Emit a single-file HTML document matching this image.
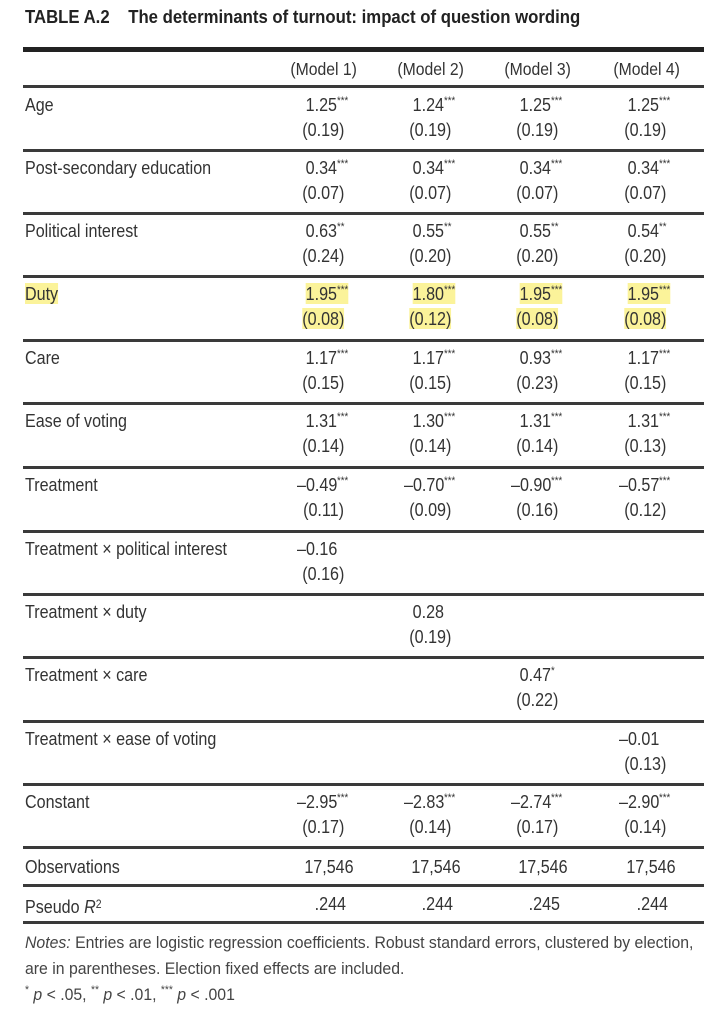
<!DOCTYPE html>
<html><head><meta charset="utf-8"><style>
html,body{margin:0;padding:0;background:#fff;}
body{width:726px;height:1024px;position:relative;overflow:hidden;font-family:"Liberation Sans",Arial,sans-serif;color:#333;}
.t{position:absolute;white-space:nowrap;font-size:18.5px;line-height:20px;transform:scaleX(.87);transform-origin:left center;}
.r{position:absolute;white-space:nowrap;font-size:18.5px;line-height:20px;transform:scaleX(.87);transform-origin:right center;text-align:right;}
.ln{position:absolute;left:23px;width:681px;height:3px;background:#3a3a3a;}
sup{font-size:11px;vertical-align:7px;line-height:0;}
.hl{background:#fbf39a;}
</style></head><body>
<div class="t" style="left:25px;top:7px;font-weight:bold;font-size:18px;color:#222;transform:scaleX(.93)">TABLE A.2&nbsp;&nbsp;&nbsp;&nbsp;The determinants of turnout: impact of question wording</div>
<div class="ln" style="top:47px;height:5px;background:#222"></div>
<div class="r" style="right:369px;top:59px;font-size:17.5px;transform:scaleX(.9)">(Model 1)</div>
<div class="r" style="right:262px;top:59px;font-size:17.5px;transform:scaleX(.9)">(Model 2)</div>
<div class="r" style="right:155px;top:59px;font-size:17.5px;transform:scaleX(.9)">(Model 3)</div>
<div class="r" style="right:46px;top:59px;font-size:17.5px;transform:scaleX(.9)">(Model 4)</div>
<div class="ln" style="top:85px"></div>
<div id="rows"></div>
<div class="t" style="left:25px;top:857px">Observations</div>
<div class="r" style="right:372px;top:857px">17,546</div>
<div class="r" style="right:265px;top:857px">17,546</div>
<div class="r" style="right:158px;top:857px">17,546</div>
<div class="r" style="right:50px;top:857px">17,546</div>
<div class="ln" style="top:884px"></div>
<div class="t" style="left:25px;top:894px">Pseudo <i>R</i><span style="font-size:12px;vertical-align:5px">2</span></div>
<div class="r" style="right:380px;top:894px">.244</div>
<div class="r" style="right:273px;top:894px">.244</div>
<div class="r" style="right:166px;top:894px">.245</div>
<div class="r" style="right:58px;top:894px">.244</div>
<div class="ln" style="top:921px"></div>
<div class="t" style="left:25px;top:933px;font-size:17px;color:#444;transform:scaleX(.93)"><i>Notes:</i> Entries are logistic regression coefficients. Robust standard errors, clustered by election,</div>
<div class="t" style="left:25px;top:959px;font-size:17px;color:#444;transform:scaleX(.93)">are in parentheses. Election fixed effects are included.</div>
<div class="t" style="left:25px;top:985px;font-size:17px;color:#444;transform:scaleX(.93)"><sup>*</sup> <i>p</i> &lt; .05, <sup>**</sup> <i>p</i> &lt; .01, <sup>***</sup> <i>p</i> &lt; .001</div>
<script>
var rows=[
["Age",["1.25","***","(0.19)"],["1.24","***","(0.19)"],["1.25","***","(0.19)"],["1.25","***","(0.19)"]],
["Post-secondary education",["0.34","***","(0.07)"],["0.34","***","(0.07)"],["0.34","***","(0.07)"],["0.34","***","(0.07)"]],
["Political interest",["0.63","**","(0.24)"],["0.55","**","(0.20)"],["0.55","**","(0.20)"],["0.54","**","(0.20)"]],
["Duty",["1.95","***","(0.08)"],["1.80","***","(0.12)"],["1.95","***","(0.08)"],["1.95","***","(0.08)"]],
["Care",["1.17","***","(0.15)"],["1.17","***","(0.15)"],["0.93","***","(0.23)"],["1.17","***","(0.15)"]],
["Ease of voting",["1.31","***","(0.14)"],["1.30","***","(0.14)"],["1.31","***","(0.14)"],["1.31","***","(0.13)"]],
["Treatment",["\u20130.49","***","(0.11)"],["\u20130.70","***","(0.09)"],["\u20130.90","***","(0.16)"],["\u20130.57","***","(0.12)"]],
["Treatment \u00d7 political interest",["\u20130.16","","(0.16)"],null,null,null],
["Treatment \u00d7 duty",null,["0.28","","(0.19)"],null,null],
["Treatment \u00d7 care",null,null,["0.47","*","(0.22)"],null],
["Treatment \u00d7 ease of voting",null,null,null,["\u20130.01","","(0.13)"]],
["Constant",["\u20132.95","***","(0.17)"],["\u20132.83","***","(0.14)"],["\u20132.74","***","(0.17)"],["\u20132.90","***","(0.14)"]]
];
var tops=[86,149,212,275,339,402,466,530,593,656,720,783];
var coefR=[337,444,551,659],seR=[344,451,558,666];
var h="";
rows.forEach(function(r,i){
 var t=tops[i],hl=(r[0]=="Duty")?" hl":"";
 h+='<div class="t" style="left:25px;top:'+(t+9)+'px"><span class="'+hl+'">'+r[0]+'</span></div>';
 for(var j=0;j<4;j++){var c=r[j+1];if(!c)continue;
  h+='<div class="r" style="right:'+(726-coefR[j])+'px;top:'+(t+9)+'px"><span class="'+hl+'">'+c[0]+'</span></div>';
  if(c[1])h+='<div class="t" style="left:'+coefR[j]+'px;top:'+(t+9)+'px"><span class="'+hl+'"><sup>'+c[1]+'</sup></span></div>';
  h+='<div class="r" style="right:'+(726-seR[j])+'px;top:'+(t+34)+'px"><span class="'+hl+'">'+c[2]+'</span></div>';
 }
 h+='<div class="ln" style="top:'+(i==11?846:tops[i+1])+'px"></div>';
});
document.getElementById("rows").innerHTML=h;
</script>
</body></html>
